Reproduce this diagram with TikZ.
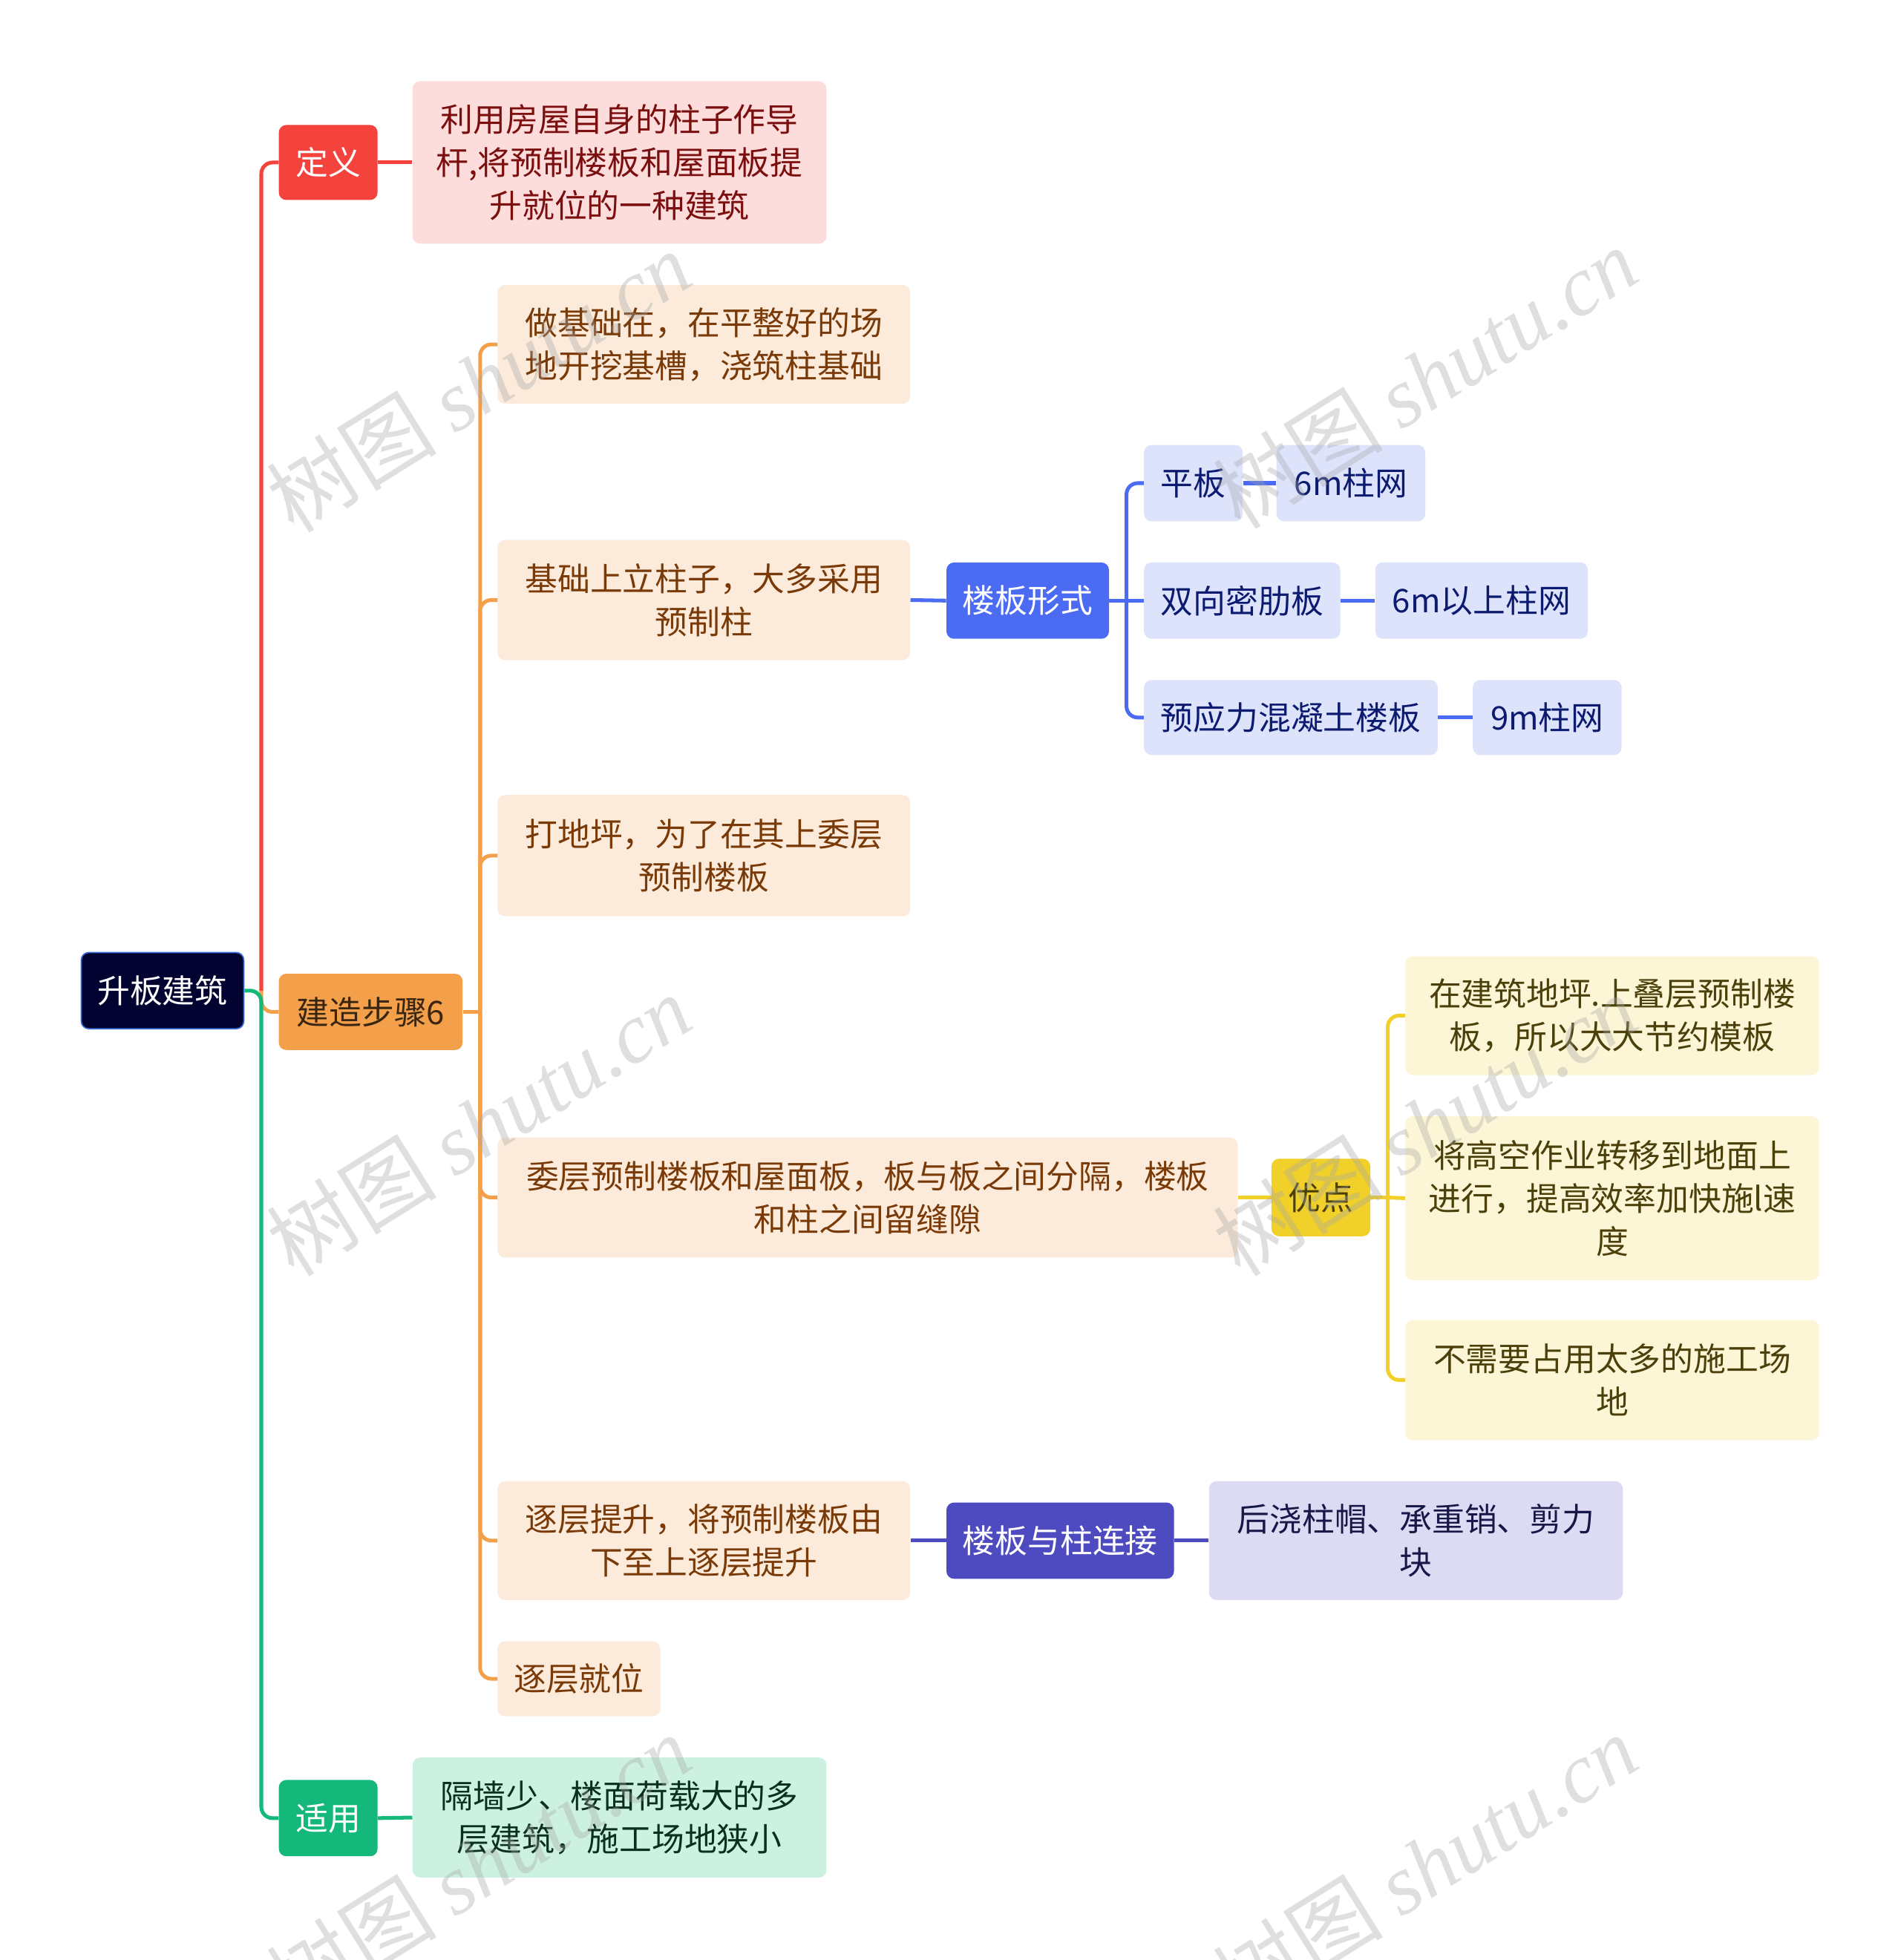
\documentclass[tikz,border=0pt]{standalone}
\usepackage{fontspec}
\setmainfont{Noto Sans CJK SC}
\newfontfamily\wmlatin{Liberation Serif}
\newfontfamily\wmcjk{Noto Sans CJK SC}
\definecolor{cRed}{HTML}{F4433C}
\definecolor{cDefFill}{HTML}{FDDCDC}
\definecolor{cDefText}{HTML}{7B0F0F}
\definecolor{cOrange}{HTML}{F4A04B}
\definecolor{cStepText}{HTML}{3A2610}
\definecolor{cSFill}{HTML}{FCEBDB}
\definecolor{cSText}{HTML}{7A3A08}
\definecolor{cGreen}{HTML}{14B87A}
\definecolor{cGFill}{HTML}{CDF1E1}
\definecolor{cGText}{HTML}{0A2E20}
\definecolor{cBlue}{HTML}{4B6CF2}
\definecolor{cBFill}{HTML}{DDE3FB}
\definecolor{cBText}{HTML}{0C1A70}
\definecolor{cYellow}{HTML}{F1D02A}
\definecolor{cYFill}{HTML}{FCF5D6}
\definecolor{cYText}{HTML}{4B400A}
\definecolor{cIndigo}{HTML}{4E4BC0}
\definecolor{cIFill}{HTML}{DCDBF3}
\definecolor{cIText}{HTML}{181848}
\definecolor{cRoot}{HTML}{020330}
\definecolor{cRootBorder}{HTML}{3C6ED6}
\tikzset{
  box/.style={rectangle, rounded corners=6pt, inner sep=0pt, align=center,
    font=\fontsize{26}{34.5}\selectfont},
  rootbox/.style={box, fill=cRoot, draw=cRootBorder, line width=1pt, text=white},
  redbox/.style={box, fill=cRed, text=white},
  defbox/.style={box, fill=cDefFill, text=cDefText},
  orangebox/.style={box, fill=cOrange, text=cStepText},
  stepbox/.style={box, fill=cSFill, text=cSText},
  greenbox/.style={box, fill=cGreen, text=white},
  gbox/.style={box, fill=cGFill, text=cGText},
  bluebox/.style={box, fill=cBlue, text=white},
  bbox/.style={box, fill=cBFill, text=cBText},
  yellowbox/.style={box, fill=cYellow, text=cYText},
  ybox/.style={box, fill=cYFill, text=cYText},
  indigobox/.style={box, fill=cIndigo, text=white},
  ibox/.style={box, fill=cIFill, text=cIText},
  conn/.style={line width=3pt, rounded corners=9pt},
  wm/.style={text=gray!70, opacity=0.35, rotate=32, inner sep=0pt,
    font=\fontsize{68}{70}\selectfont}
}
\newcommand{\wmtext}{{\wmcjk 树图} {\wmlatin\itshape shutu.cn}}
\begin{document}
\begin{tikzpicture}[x=1pt,y=-1pt]
\useasboundingbox (0,0) rectangle (1520,1568);
\fill[white] (0,0) rectangle (1520,1568);

% nodes
\node[rootbox, minimum width=130pt, minimum height=61pt] (root) at (130,792.5) {升板建筑};
\node[redbox, minimum width=79pt, minimum height=60pt] (def) at (262.5,130) {定义};
\node[defbox, minimum width=331pt, minimum height=130pt] (defc) at (495.5,130) {利用房屋自身的柱子作导\\杆,将预制楼板和屋面板提\\升就位的一种建筑};
\node[orangebox, minimum width=147pt, minimum height=61pt] (steps) at (296.5,809.5) {建造步骤6};
\node[greenbox, minimum width=79pt, minimum height=61pt] (use) at (262.5,1454.5) {适用};
\node[gbox, minimum width=331pt, minimum height=96pt] (usec) at (495.5,1454) {隔墙少、楼面荷载大的多\\层建筑，施工场地狭小};

\node[stepbox, minimum width=330pt, minimum height=95pt] (s1) at (563,275.5) {做基础在，在平整好的场\\地开挖基槽，浇筑柱基础};
\node[stepbox, minimum width=330pt, minimum height=96pt] (s2) at (563,480) {基础上立柱子，大多采用\\预制柱};
\node[stepbox, minimum width=330pt, minimum height=97pt] (s3) at (563,684.5) {打地坪，为了在其上委层\\预制楼板};
\node[stepbox, minimum width=592pt, minimum height=96pt] (s4) at (694,958) {委层预制楼板和屋面板，板与板之间分隔，楼板\\和柱之间留缝隙};
\node[stepbox, minimum width=330pt, minimum height=95pt] (s5) at (563,1232.5) {逐层提升，将预制楼板由\\下至上逐层提升};
\node[stepbox, minimum width=130pt, minimum height=60pt] (s6) at (463,1343) {逐层就位};

\node[bluebox, minimum width=130pt, minimum height=61pt] (lbxs) at (822,480.5) {楼板形式};
\node[bbox, minimum width=79pt, minimum height=61pt] (pb) at (954.5,386.5) {平板};
\node[bbox, minimum width=119pt, minimum height=61pt] (m6) at (1080.5,386.5) {6m柱网};
\node[bbox, minimum width=157pt, minimum height=61pt] (sx) at (993.5,480.5) {双向密肋板};
\node[bbox, minimum width=170pt, minimum height=61pt] (m6up) at (1185,480.5) {6m以上柱网};
\node[bbox, minimum width=235pt, minimum height=60pt] (yy) at (1032.5,574) {预应力混凝土楼板};
\node[bbox, minimum width=119pt, minimum height=60pt] (m9) at (1237.5,574) {9m柱网};

\node[yellowbox, minimum width=79pt, minimum height=62pt] (yd) at (1056.5,958) {优点};
\node[ybox, minimum width=331pt, minimum height=95pt] (a1) at (1289.5,812.5) {在建筑地坪.上叠层预制楼\\板，所以大大节约模板};
\node[ybox, minimum width=331pt, minimum height=131pt] (a2) at (1289.5,958.5) {将高空作业转移到地面上\\进行，提高效率加快施l速\\度};
\node[ybox, minimum width=331pt, minimum height=96pt] (a3) at (1289.5,1104) {不需要占用太多的施工场\\地};

\node[indigobox, minimum width=182pt, minimum height=61pt] (lbyz) at (848,1232.5) {楼板与柱连接};
\node[ibox, minimum width=331pt, minimum height=95pt] (hj) at (1132.5,1232.5) {后浇柱帽、承重销、剪力\\块};

% junction coordinates
\coordinate (trunk) at (209,792.5);
\coordinate (st) at (384,809.5);
\coordinate (bt) at (901,480.5);
\coordinate (yt) at (1110,958);

% connectors: main
\draw[conn, cRed] (trunk) |- (def.west);
\draw[conn, cOrange] (trunk) |- (steps.west);
\draw[conn, cGreen] (root.east) -- (trunk) |- (use.west);
\draw[conn, cRed] (def.east) -- (defc.west);
\draw[conn, cGreen] (use.east) -- (usec.west);

% steps
\draw[conn, cOrange] (steps.east) -- (st);
\draw[conn, cOrange] (st) |- (s1.west);
\draw[conn, cOrange] (st) |- (s2.west);
\draw[conn, cOrange] (st) |- (s3.west);
\draw[conn, cOrange] (st) |- (s4.west);
\draw[conn, cOrange] (st) |- (s5.west);
\draw[conn, cOrange] (st) |- (s6.west);

% floor forms
\draw[conn, cBlue] (s2.east) -- (lbxs.west);
\draw[conn, cBlue] (lbxs.east) -- (bt);
\draw[conn, cBlue] (bt) |- (pb.west);
\draw[conn, cBlue] (bt) -- (sx.west);
\draw[conn, cBlue] (bt) |- (yy.west);
\draw[conn, cBlue] (pb.east) -- (m6.west);
\draw[conn, cBlue] (sx.east) -- (m6up.west);
\draw[conn, cBlue] (yy.east) -- (m9.west);

% advantages
\draw[conn, cYellow] (s4.east) -- (yd.west);
\draw[conn, cYellow] (yd.east) -- (yt);
\draw[conn, cYellow] (yt) |- (a1.west);
\draw[conn, cYellow] (yt) -- (a2.west);
\draw[conn, cYellow] (yt) |- (a3.west);

% connection
\draw[conn, cIndigo] (s5.east) -- (lbyz.west);
\draw[conn, cIndigo] (lbyz.east) -- (hj.west);

% watermarks
\node[wm] (w1) at (383,305) {\wmtext};
\node[wm] (w2) at (383,900) {\wmtext};
\node[wm] (w3) at (1140,302) {\wmtext};
\node[wm] (w4) at (1140,900) {\wmtext};
\node[wm] (w5) at (383,1492) {\wmtext};
\node[wm] (w6) at (1140,1492) {\wmtext};
\end{tikzpicture}
\end{document}
